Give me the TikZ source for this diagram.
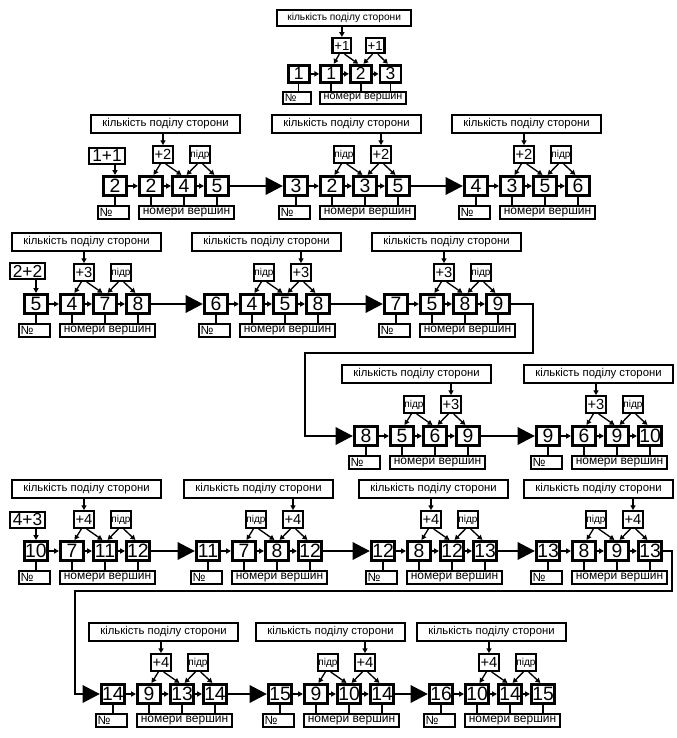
\documentclass[tikz,border=0pt]{standalone}
\usepackage{fontspec}
\setmainfont{Liberation Sans}
\usetikzlibrary{arrows.meta}
\def\us{1}
\newcommand\pd{{\fontsize{7.5}{8}\selectfont підр}}
\def\pdtest{\pd}
\tikzset{
  numbox/.style={draw, line width=2.2pt, inner sep=0pt,
    minimum width={\us*17.5pt}, minimum height={\us*14.5pt},
    font=\fontsize{\fsn}{\fsn}\selectfont},
  opbox/.style={draw, line width=1.8pt, inner sep=0pt,
    minimum width={\us*15.4pt}, minimum height={\us*12.4pt},
    font=\fontsize{\fso}{\fso}\selectfont},
  lopbox/.style={draw, line width=1.8pt, inner sep=0pt,
    minimum width=26.6pt, minimum height=12.4pt,
    font=\fontsize{13}{13}\selectfont},
  topbox/.style={draw, line width=1.6pt, inner sep=0pt,
    minimum width={\us*111.7pt}, minimum height={\us*13.4pt},
    font=\fontsize{\fst}{\fst}\selectfont},
  nobox/.style={draw, line width=1.5pt, inner sep=0pt,
    minimum width={\us*23.2pt}, minimum height={\us*9.7pt},
    font=\fontsize{\fsv}{\fsv}\selectfont},
  vbox/.style={draw, line width=1.5pt, inner sep=0pt,
    minimum width={\us*71.2pt}, minimum height={\us*9.7pt},
    font=\fontsize{\fsv}{\fsv}\selectfont},
  sconn/.style={line width=1pt, -{Triangle[length=3.5pt,width=3.8pt]}},
  pconn/.style={line width=1.1pt},
  bigarr/.style={line width=2pt, -{Triangle[length=13pt,width=13pt]}}
}
\newcommand\unitbox[9]{%
  \pgfmathsetmacro\fsn{14.5*\us}%
  \pgfmathsetmacro\fso{11*\us}%
  \pgfmathsetmacro\fst{8.5*\us}%
  \pgfmathsetmacro\fsv{9*\us}%
  \pgfmathsetmacro\nbw{21*\us}%
  \node[numbox] (#1-i) at ({#2+13*\us},{#3+11*\us}) {#4};
  \node[numbox] (#1-a) at ({#2+49*\us},{#3+11*\us}) {#5};
  \node[numbox] (#1-b) at ({#2+82*\us},{#3+11*\us}) {#6};
  \node[numbox] (#1-c) at ({#2+115*\us},{#3+11*\us}) {#7};
  \node[topbox] (#1-t) at ({#2+63.5*\us},{#3-51*\us}) {кількість поділу сторони};
  \node[opbox] (#1-p) at ({#2+61*\us},{#3-20.5*\us}) {#8};
  \node[opbox] (#1-q) at ({#2+98*\us},{#3-20.5*\us}) {#9};
  \node[nobox] (#1-n) at ({#2+11.5*\us},{#3+37.5*\us}) {\makebox[\nbw pt][l]{№}};
  \node[vbox] (#1-v) at ({#2+84.5*\us},{#3+37.5*\us}) {номери вершин};
  \draw[sconn] (#1-i.east) -- (#1-a.west);
  \draw[sconn] (#1-a.east) -- (#1-b.west);
  \draw[sconn] (#1-b.east) -- (#1-c.west);
  \draw[sconn] ([xshift=-2pt]#1-p.south) -- ([xshift=2pt]#1-a.north);
  \draw[sconn] ([xshift=2pt]#1-p.south) -- ([xshift=-2pt]#1-b.north);
  \draw[sconn] ([xshift=-2pt]#1-q.south) -- ([xshift=2pt]#1-b.north);
  \draw[sconn] ([xshift=2pt]#1-q.south) -- ([xshift=-2pt]#1-c.north);
  \draw[pconn] (#1-n.north -| #1-i.south) -- (#1-i.south);
  \draw[pconn] (#1-v.north -| #1-a.south) -- (#1-a.south);
  \draw[pconn] (#1-v.north -| #1-b.south) -- (#1-b.south);
  \draw[pconn] (#1-v.north -| #1-c.south) -- (#1-c.south);
  \def\tmpop{#8}%
  \ifx\tmpop\pdtest
    \draw[sconn] (#1-t.south -| #1-q.north) -- (#1-q.north);
  \else
    \draw[sconn] (#1-t.south -| #1-p.north) -- (#1-p.north);
  \fi
}
\begin{document}
\begin{tikzpicture}[x=0.75pt, y=-0.75pt]
\useasboundingbox (0,0) rectangle (677,738);
\def\us{0.9}
\unitbox{u0}{287}{64}{1}{1}{2}{3}{+1}{+1}
\def\us{1}
\unitbox{a1}{102}{175}{2}{2}{4}{5}{+2}{\pd}
\unitbox{a2}{283}{175}{3}{2}{3}{5}{\pd}{+2}
\unitbox{a3}{463}{175}{4}{3}{5}{6}{+2}{\pd}
\unitbox{b1}{23}{293}{5}{4}{7}{8}{+3}{\pd}
\unitbox{b2}{203}{293}{6}{4}{5}{8}{\pd}{+3}
\unitbox{b3}{383}{293}{7}{5}{8}{9}{+3}{\pd}
\unitbox{c1}{353}{425}{8}{5}{6}{9}{\pd}{+3}
\unitbox{c2}{535}{425}{9}{6}{9}{10}{+3}{\pd}
\unitbox{d1}{23}{540}{10}{7}{11}{12}{+4}{\pd}
\unitbox{d2}{195}{540}{11}{7}{8}{12}{\pd}{+4}
\unitbox{d3}{370}{540}{12}{8}{12}{13}{+4}{\pd}
\unitbox{d4}{535}{540}{13}{8}{9}{13}{\pd}{+4}
\unitbox{e1}{100}{683}{14}{9}{13}{14}{+4}{\pd}
\unitbox{e2}{267}{683}{15}{9}{10}{14}{\pd}{+4}
\unitbox{e3}{428}{683}{16}{10}{14}{15}{+4}{\pd}
% left operand boxes
\node[lopbox] (a1-l) at (107,156) {1+1};
\node[lopbox] (b1-l) at (27.5,271) {2+2};
\node[lopbox] (d1-l) at (27.5,520) {4+3};
\draw[sconn] (a1-l.south -| a1-i.north) -- (a1-i.north);
\draw[sconn] (b1-l.south -| b1-i.north) -- (b1-i.north);
\draw[sconn] (d1-l.south -| d1-i.north) -- (d1-i.north);
% big arrows
\draw[bigarr] (a1-c.east) -- (a2-i.west);
\draw[bigarr] (a2-c.east) -- (a3-i.west);
\draw[bigarr] (b1-c.east) -- (b2-i.west);
\draw[bigarr] (b2-c.east) -- (b3-i.west);
\draw[bigarr] (c1-c.east) -- (c2-i.west);
\draw[bigarr] (d1-c.east) -- (d2-i.west);
\draw[bigarr] (d2-c.east) -- (d3-i.west);
\draw[bigarr] (d3-c.east) -- (d4-i.west);
\draw[bigarr] (e1-c.east) -- (e2-i.west);
\draw[bigarr] (e2-c.east) -- (e3-i.west);
% loops
\coordinate (r1) at (533,353);
\coordinate (r2) at (305,353);
\draw[bigarr] (b3-c.east) -| (r1) -- (r2) |- (c1-i.west);
\coordinate (r3) at (672,591);
\coordinate (r4) at (75,591);
\draw[bigarr] (d4-c.east) -| (r3) -- (r4) |- (e1-i.west);
\end{tikzpicture}
\end{document}
